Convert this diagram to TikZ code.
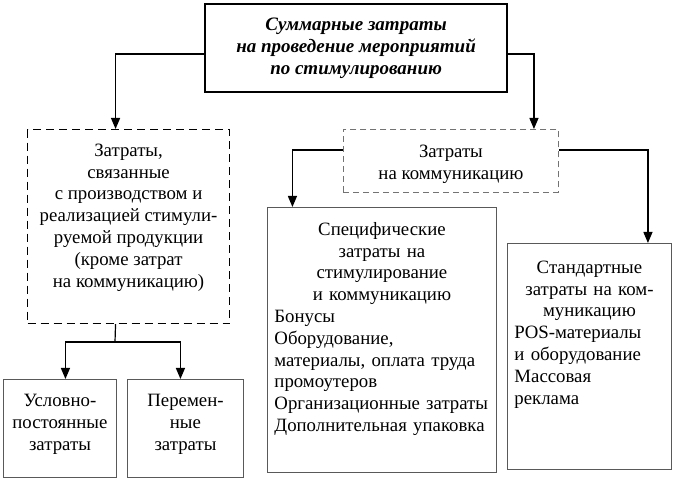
\documentclass[tikz,border=0pt]{standalone}
\usepackage{fontspec}
\setmainfont{Liberation Serif}
\usetikzlibrary{arrows.meta,positioning}
\tikzset{
  box/.style={draw=black!65, line width=0.9pt, anchor=north west, inner sep=0pt},
  dbox/.style={box, draw=black, line width=1.1pt, dash pattern=on 8pt off 5pt},
  cbox/.style={box, draw=black!55, dash pattern=on 6pt off 4pt},
  txt/.style={align=center, inner sep=0pt, font=\fontsize{18.8}{21.8}\selectfont},
  arr/.style={line width=1.2pt, -{Triangle[length=11pt,width=9pt]}},
}
\begin{document}
\begin{tikzpicture}[x=1pt,y=-1pt]
\useasboundingbox[fill=white] (0,0) rectangle (673,478);
% boxes
\node[box, draw=black, line width=2.2pt, minimum width=302, minimum height=88] (total) at (204,3) {};
\node[dbox, minimum width=202, minimum height=194] (prod) at (27,129) {};
\node[cbox, minimum width=215, minimum height=63] (comm) at (343,129) {};
\node[box, minimum width=229, minimum height=265] (spec) at (267,207) {};
\node[box, minimum width=164, minimum height=226] (std) at (507,243) {};
\node[box, minimum width=113, minimum height=98] (fixed) at (3,379) {};
\node[box, minimum width=116, minimum height=98] (var) at (127,379) {};
% texts
\node[txt, font=\fontsize{19}{22}\selectfont\bfseries\itshape] (totaltxt) at (total.center)
  {Суммарные затраты\\на проведение мероприятий\\по стимулированию};
\node[txt] (prodtxt) at ([yshift=9]prod.center)
  {Затраты,\\связанные\\с производством и\\реализацией стимули-\\руемой продукции\\(кроме затрат\\на коммуникацию)};
\node[txt] (commtxt) at ([yshift=-3]comm.center) {Затраты\\на коммуникацию};
\node[txt, text width=215, align=left] (spectxt) at ([yshift=11]spec.center)
  {\centering Специфические\\затраты на\\стимулирование\\и коммуникацию\par
   \raggedright Бонусы\\Оборудование,\\материалы, оплата труда\\промоутеров\\Организационные затраты\\Дополнительная упаковка};
\node[txt, text width=150, align=left] (stdtxt) at ([yshift=22]std.center)
  {\centering Стандартные\\затраты на ком-\\муникацию\par
   \raggedright POS-материалы\\и оборудование\\Массовая\\реклама};
\node[txt] (fixedtxt) at ([yshift=4]fixed.center) {Условно-\\постоянные\\затраты};
\node[txt] (vartxt) at ([yshift=4]var.center) {Перемен-\\ные\\затраты};
% connectors
\coordinate (split) at ([yshift=-18]prod.south -| 115,0);
\draw[arr] ([yshift=-6]total.west) -| ([xshift=-13]prod.north);
\draw[arr] ([yshift=-6]total.east) -| ([xshift=83]comm.north);
\draw[arr] ([yshift=11]comm.west) -| ([xshift=-89.5]spec.north);
\draw[arr] ([yshift=11]comm.east) -| ([xshift=58.5]std.north);
\draw[line width=1.2pt] ([xshift=-13]prod.south) -- (split);
\draw[arr] (split) -| ([xshift=5.5]fixed.north);
\draw[arr] (split) -| ([xshift=-5]var.north);
\end{tikzpicture}
\end{document}
